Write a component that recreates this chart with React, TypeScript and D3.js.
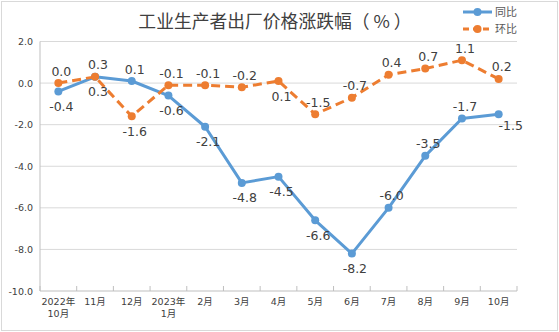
import React from "react";
import * as d3 from "d3";

const categories: string[][] = [
  ["2022年", "10月"], ["11月"], ["12月"], ["2023年", "1月"], ["2月"], ["3月"], ["4月"],
  ["5月"], ["6月"], ["7月"], ["8月"], ["9月"], ["10月"],
];
const yoy = [-0.4, 0.3, 0.1, -0.6, -2.1, -4.8, -4.5, -6.6, -8.2, -6.0, -3.5, -1.7, -1.5];
const mom = [0.0, 0.3, -1.6, -0.1, -0.1, -0.2, 0.1, -1.5, -0.7, 0.4, 0.7, 1.1, 0.2];
const yoyPlace = ["b", "t", "t", "b", "b", "b", "b", "b", "b", "t", "t", "t", "r"];
const momPlace = ["t", "b", "b", "t", "t", "t", "b", "t", "t", "t", "t", "t", "t"];
const yTicks = [2, 0, -2, -4, -6, -8, -10];
const title = "工业生产者出厂价格涨跌幅（ % ）";
const seriesNames = ["同比", "环比"];

const W = 559, H = 332;
const left = 40, right = 517, top = 41.5, bottom = 291;
const BLUE = "#5B9BD5", ORANGE = "#ED7D31", TXT = "#404040";

export default function App() {
  const x = d3.scaleBand<number>().domain(d3.range(categories.length)).range([left, right]);
  const y = d3.scaleLinear().domain([-10, 2]).range([bottom, top]);
  const cx = (i: number) => (x(i) as number) + x.bandwidth() / 2;
  const line = d3.line<number>().x((_, i) => cx(i)).y((d) => y(d));

  const labelPos = (p: string, i: number, v: number) => {
    if (p === "t") return { x: cx(i) + 3, y: y(v) - 12 };
    if (p === "b") return { x: cx(i) + 3, y: y(v) + 15 };
    return { x: cx(i) + 12, y: y(v) + 11 };
  };

  const fmt = d3.formatLocale({ decimal: ".", thousands: ",", grouping: [3], currency: ["", ""], minus: "-" }).format(".1f");
  const font = "'DejaVu Sans', 'Noto Sans CJK SC', sans-serif";

  return (
    <svg width={W} height={H} style={{ position: "absolute", left: 0, top: 0, background: "#fff" }} fontFamily={font}>
      <rect x={1.5} y={1.5} width={W - 3} height={H - 3} fill="#fff" stroke="#d9d9d9" />
      <text x={275} y={28} textAnchor="middle" fontSize={17.8} fill={TXT} fontFamily="'Noto Sans CJK SC', sans-serif">{title}</text>
      {yTicks.map((t) => (
        <g key={t}>
          {t !== -10 && <line x1={left} x2={right} y1={y(t)} y2={y(t)} stroke="#d9d9d9" />}
          <text x={33} y={y(t) + 3.5} textAnchor="end" fontSize={9.5} fill={TXT}>{fmt(t)}</text>
        </g>
      ))}
      <line x1={left} x2={left} y1={top} y2={bottom} stroke="#bfbfbf" />
      <line x1={left} x2={right} y1={bottom} y2={bottom} stroke="#bfbfbf" />
      {d3.range(categories.length + 1).map((i) => {
        const xx = i < categories.length ? (x(i) as number) : right;
        return <line key={i} x1={xx} x2={xx} y1={bottom} y2={bottom - 5} stroke="#bfbfbf" />;
      })}
      {categories.map((c, i) => (
        <text key={i} textAnchor="middle" fontSize={9.5} fill={TXT}>
          {c.map((s, j) => (
            <tspan key={j} x={cx(i)} y={305 + j * 12}>{s}</tspan>
          ))}
        </text>
      ))}
      <path d={line(yoy) || ""} fill="none" stroke={BLUE} strokeWidth={3} strokeLinejoin="round" />
      {yoy.map((v, i) => <circle key={i} cx={cx(i)} cy={y(v)} r={4} fill={BLUE} />)}
      <path d={line(mom) || ""} fill="none" stroke={ORANGE} strokeWidth={3} strokeDasharray="9,5" strokeLinejoin="round" />
      {mom.map((v, i) => <circle key={i} cx={cx(i)} cy={y(v)} r={4} fill={ORANGE} />)}
      {yoy.map((v, i) => {
        const p = labelPos(yoyPlace[i], i, v);
        return <text key={i} x={p.x} y={p.y + 4.5} textAnchor="middle" fontSize={12.5} fill={TXT}>{fmt(v)}</text>;
      })}
      {mom.map((v, i) => {
        const p = labelPos(momPlace[i], i, v);
        return <text key={i} x={p.x} y={p.y + 4.5} textAnchor="middle" fontSize={12.5} fill={TXT}>{fmt(v)}</text>;
      })}
      {seriesNames.map((n, k) => {
        const ly = 12 + k * 17;
        const col = k === 0 ? BLUE : ORANGE;
        return (
          <g key={n}>
            <line x1={463} x2={492} y1={ly} y2={ly} stroke={col} strokeWidth={3} strokeDasharray={k === 1 ? "6,4" : undefined} />
            <circle cx={477.5} cy={ly} r={4} fill={col} />
            <text x={495} y={ly + 4} fontSize={11} fill="#595959" fontFamily="'Noto Sans CJK SC', sans-serif">{n}</text>
          </g>
        );
      })}
    </svg>
  );
}
